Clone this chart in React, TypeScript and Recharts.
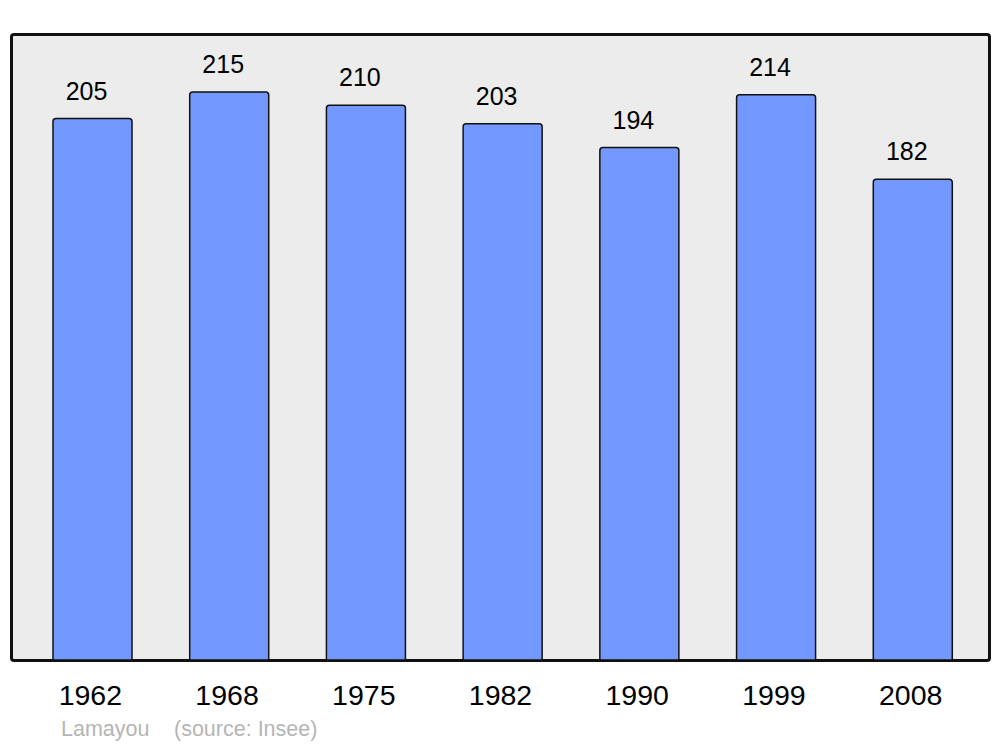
import React from "react";
import { BarChart, Bar, XAxis, YAxis, LabelList } from "recharts";

const years = ["1962", "1968", "1975", "1982", "1990", "1999", "2008"];
const population = [205, 215, 210, 203, 194, 214, 182];

const data = years.map((year, i) => ({ year, population: population[i] }));

const FONT = "'Liberation Sans', Arial, sans-serif";

function ValueLabel(props: any) {
  const { x, y, width, value } = props;
  return (
    <text
      x={x + width / 2 - 6}
      y={y - 19}
      textAnchor="middle"
      fontSize={25}
      fontFamily={FONT}
      fill="#000"
    >
      {value}
    </text>
  );
}

function YearTick(props: any) {
  const { x, y, payload } = props;
  return (
    <text
      x={x - 2}
      y={y + 43}
      textAnchor="middle"
      fontSize={28.5}
      fontFamily={FONT}
      fill="#000"
    >
      {payload.value}
    </text>
  );
}

const footerStyle: React.CSSProperties = {
  position: "absolute",
  top: 717,
  fontFamily: FONT,
  fontSize: 21.5,
  color: "#b5b5b5",
  whiteSpace: "pre",
};

export default function App() {
  return (
    <div
      style={{
        position: "absolute",
        left: 0,
        top: 0,
        width: 1000,
        height: 747,
        background: "#fff",
      }}
    >
      <div
        style={{
          position: "absolute",
          left: 10,
          top: 33,
          width: 975,
          height: 623,
          background: "#ececec",
          border: "3px solid #111",
          borderRadius: 4,
        }}
      />
      <div style={{ position: "absolute", left: 0, top: 0 }}>
        <BarChart
          width={1000}
          height={747}
          data={data}
          margin={{ top: 34, right: 11, bottom: 27, left: 11 }}
        >
          <XAxis
            dataKey="year"
            axisLine={false}
            tickLine={false}
            height={60}
            tickSize={0}
            padding={{ left: 13, right: 8 }}
            tick={<YearTick />}
          />
          <YAxis hide width={0} domain={[0, 237]} />
          <Bar
            dataKey="population"
            fill="#7399ff"
            stroke="#111"
            strokeWidth={1.5}
            barSize={79}
            radius={[3, 3, 0, 0]}
            isAnimationActive={false}
          >
            <LabelList dataKey="population" content={<ValueLabel />} />
          </Bar>
        </BarChart>
      </div>
      <div style={{ ...footerStyle, left: 61 }}>Lamayou</div>
      <div style={{ ...footerStyle, left: 174 }}>(source: Insee)</div>
    </div>
  );
}
